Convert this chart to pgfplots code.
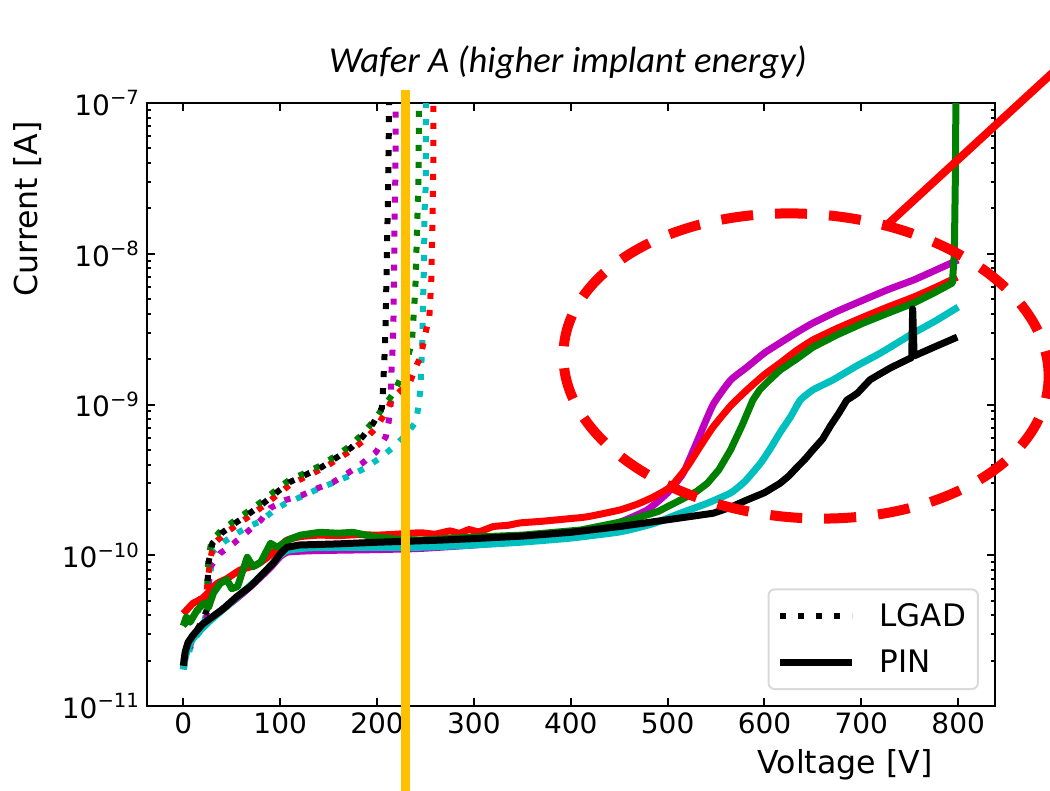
\documentclass[border=0pt]{standalone}
\usepackage{fontspec}
\setmainfont{DejaVu Sans}
\newfontfamily\titlefont{Carlito}
\usepackage{pgfplots}
\pgfplotsset{compat=1.18}
\definecolor{mplm}{rgb}{0.75,0,0.75}
\definecolor{mplc}{rgb}{0,0.75,0.75}
\definecolor{mplg}{rgb}{0,0.5,0}
\definecolor{gold}{HTML}{FFC000}
\begin{document}
\begin{tikzpicture}
\useasboundingbox (0,0) rectangle (525pt,395.5pt);
\begin{axis}[
  at={(73.5pt,42.5pt)}, anchor=south west, scale only axis,
  width=424pt, height=301.5pt,
  xmin=-37.5, xmax=838, ymode=log, ymin=1e-11, ymax=1e-7,
  xtick={0,100,...,800},
  ytick={1e-11,1e-10,1e-9,1e-8,1e-7},
  yticklabels={10\textsuperscript{−11},10\textsuperscript{−10},10\textsuperscript{−9},10\textsuperscript{−8},10\textsuperscript{−7}},
  minor ytick={2e-11,3e-11,4e-11,5e-11,6e-11,7e-11,8e-11,9e-11,2e-10,3e-10,4e-10,5e-10,6e-10,7e-10,8e-10,9e-10,2e-9,3e-9,4e-9,5e-9,6e-9,7e-9,8e-9,9e-9,2e-8,3e-8,4e-8,5e-8,6e-8,7e-8,8e-8,9e-8},
  tick align=inside, major tick length=4pt, minor tick length=2.2pt,
  every tick/.style={black, line width=1pt},
  axis line style={line width=1.3pt},
  tick label style={font=\fontsize{14pt}{16pt}\selectfont},
  /pgf/number format/assume math mode=true,
  legend style={at={(0.981,0.0265)}, anchor=south east, draw=black!15, line width=1pt,
    rounded corners=3pt, font=\fontsize{15.5pt}{18pt}\selectfont,
    inner xsep=4pt, inner ysep=5pt, row sep=6pt,
    /tikz/every odd column/.append style={column sep=10pt}},
  legend cell align=left,
  legend image code/.code={\draw[#1] (0pt,0pt) -- (36pt,0pt);},
  pin/.style={line width=3.5pt, line join=round, forget plot},
  lgad/.style={line width=3pt, dash pattern=on 3pt off 5.5pt, forget plot},
]
% LGAD (dotted)
\addplot[lgad, mplc] coordinates {(0,1.8e-11)(10,2.7e-11)(20,3.3e-11)(25,4.5e-11)(28,7.5e-11)(30,1.05e-10)(43,1.24e-10)(57,1.42e-10)(70,1.58e-10)(80,1.68e-10)(92,1.95e-10)(105,2.2e-10)(122,2.45e-10)(139,2.75e-10)(156,3.05e-10)(173,3.4e-10)(188,3.79e-10)(203,4.42e-10)(217,5.22e-10)(230,6.3e-10)(240,7.65e-10)(243,9.9e-10)(245,1.31e-9)(245.5,1.69e-9)(247,2.89e-9)(247.5,4.93e-9)(248.5,8.4e-9)(249,1.86e-8)(250.5,3.09e-8)(250.5,6.8e-8)(251,2e-7)};
\addplot[lgad, mplm] coordinates {(0,1.9e-11)(10,2.8e-11)(20,3.4e-11)(24,3.9e-11)(25,5.0e-11)(28,8.4e-11)(38,1.03e-10)(52,1.2e-10)(66,1.43e-10)(80,1.71e-10)(90,2.06e-10)(105,2.32e-10)(123,2.51e-10)(139,2.79e-10)(155,3.06e-10)(170,3.51e-10)(185,4.09e-10)(199,4.84e-10)(209,6.1e-10)(212,7.65e-10)(214,9.9e-10)(214.5,1.31e-9)(215,1.74e-9)(216,2.3e-9)(217,3.8e-9)(217.5,6.7e-9)(218,1.44e-8)(219,3.6e-8)(219.5,2e-7)};
\addplot[lgad, red] coordinates {(0,4.1e-11)(10,4.7e-11)(20,5.3e-11)(24,5.8e-11)(26,7.5e-11)(28,9.5e-11)(31,1.18e-10)(42,1.38e-10)(56,1.6e-10)(71,1.87e-10)(85,2.18e-10)(99,2.58e-10)(112,3.0e-10)(128,3.35e-10)(145,3.8e-10)(161,4.4e-10)(175,5.05e-10)(188,5.9e-10)(199,7.0e-10)(209,8.9e-10)(217,1.12e-9)(234,1.41e-9)(241,1.83e-9)(245,2.07e-9)(250,2.98e-9)(254,3.8e-9)(256,6.7e-9)(257,1.44e-8)(258,3.6e-8)(258.5,2e-7)};
\addplot[lgad, mplg] coordinates {(0,3.4e-11)(10,4.0e-11)(20,4.6e-11)(24,5.0e-11)(25,7.0e-11)(26,9.5e-11)(29,1.25e-10)(39,1.46e-10)(53,1.7e-10)(68,1.98e-10)(82,2.3e-10)(96,2.72e-10)(109,3.15e-10)(125,3.5e-10)(142,3.95e-10)(158,4.6e-10)(172,5.3e-10)(184,6.3e-10)(196,7.7e-10)(206,9.5e-10)(217,1.19e-9)(227,1.62e-9)(236,2.56e-9)(237,3.27e-9)(239.5,5.75e-9)(240.5,9.5e-9)(241.5,1.6e-8)(242.6,2.73e-8)(243,4.67e-8)(243.5,2e-7)};
\addplot[lgad, black] coordinates {(0,2.0e-11)(10,2.9e-11)(20,3.7e-11)(24,4.3e-11)(25,6.5e-11)(26,8.9e-11)(30,1.2e-10)(40,1.41e-10)(54,1.64e-10)(69,1.91e-10)(83,2.22e-10)(97,2.63e-10)(110,3.06e-10)(126,3.41e-10)(143,3.85e-10)(159,4.48e-10)(173,5.15e-10)(185,6.1e-10)(196,7.5e-10)(205,9.5e-10)(206,1.21e-9)(208,2.3e-9)(209,3.8e-9)(210,8.7e-9)(211,1.9e-8)(212,5.4e-8)(213,2e-7)};
% PIN (solid)
\addplot[pin, mplm, smooth, tension=0.3] coordinates {(0,1.75e-11)(2,2.2e-11)(5,2.6e-11)(10,2.9e-11)(20,3.4e-11)(30,3.9e-11)(45,4.6e-11)(60,5.5e-11)(75,6.7e-11)(90,8.3e-11)(100,9.8e-11)(108,1.05e-10)(130,1.07e-10)(160,1.08e-10)(200,1.09e-10)(245,1.11e-10)(300,1.17e-10)(350,1.25e-10)(410,1.40e-10)(450,1.65e-10)(479,2.0e-10)(500,2.6e-10)(516,3.5e-10)(530,5.6e-10)(547,1.0e-9)(565,1.45e-9)(582,1.77e-9)(600,2.2e-9)(616,2.56e-9)(633,3.0e-9)(650,3.47e-9)(675,4.15e-9)(702,4.93e-9)(728,5.8e-9)(754,6.7e-9)(777,7.8e-9)(800,9.1e-9)};
\addplot[pin, red, smooth, tension=0.3] coordinates {(0,4.1e-11)(3,4.3e-11)(10,4.8e-11)(20,5.2e-11)(35,6.5e-11)(45,7.0e-11)(59,8.0e-11)(75,8.6e-11)(87,9.7e-11)(100,1.15e-10)(107,1.26e-10)(121,1.33e-10)(140,1.36e-10)(160,1.35e-10)(180,1.37e-10)(200,1.36e-10)(220,1.38e-10)(245,1.41e-10)(260,1.38e-10)(275,1.45e-10)(285,1.40e-10)(295,1.48e-10)(305,1.43e-10)(320,1.55e-10)(335,1.58e-10)(348,1.64e-10)(370,1.68e-10)(395,1.74e-10)(417,1.80e-10)(451,2.0e-10)(470,2.2e-10)(485,2.43e-10)(503,2.84e-10)(520,3.85e-10)(533,5.2e-10)(547,7.1e-10)(565,9.8e-10)(582,1.25e-9)(600,1.58e-9)(616,1.88e-9)(633,2.28e-9)(650,2.68e-9)(675,3.2e-9)(702,3.8e-9)(728,4.45e-9)(754,5.16e-9)(777,6.0e-9)(799,7.0e-9)};
\addplot[pin, mplg] coordinates {(0,3.4e-11)(3,3.9e-11)(7,3.6e-11)(14,4.3e-11)(21,4.8e-11)(26,4.5e-11)(31,5.6e-11)(38,6.5e-11)(45,6.9e-11)(50,6.0e-11)(56,6.2e-11)(66,9.7e-11)(72,8.4e-11)(80,9.0e-11)(90,1.2e-10)(97,1.13e-10)(110,1.28e-10)(121,1.36e-10)(141,1.42e-10)(160,1.40e-10)(175,1.42e-10)(196,1.33e-10)(220,1.28e-10)(245,1.26e-10)(299,1.32e-10)(350,1.36e-10)(410,1.47e-10)(461,1.71e-10)(490,1.95e-10)(513,2.32e-10)(530,2.65e-10)(541,3.0e-10)(553,3.7e-10)(565,5.0e-10)(577,7.3e-10)(588,1.07e-9)(595,1.25e-9)(605,1.45e-9)(616,1.69e-9)(633,2.0e-9)(650,2.4e-9)(675,2.9e-9)(702,3.47e-9)(728,4.05e-9)(754,4.71e-9)(775,5.5e-9)(794,6.4e-9)(796,1e-8)(797,3e-8)(798,2e-7)};
\addplot[pin, mplc, smooth, tension=0.3] coordinates {(0,1.75e-11)(2,2.1e-11)(5,2.45e-11)(10,2.8e-11)(20,3.3e-11)(30,3.8e-11)(45,4.6e-11)(60,5.6e-11)(75,6.8e-11)(90,8.5e-11)(100,1.0e-10)(108,1.08e-10)(130,1.12e-10)(180,1.13e-10)(245,1.13e-10)(300,1.17e-10)(348,1.22e-10)(400,1.3e-10)(451,1.43e-10)(485,1.62e-10)(513,1.9e-10)(540,2.2e-10)(565,2.59e-10)(580,3.1e-10)(596,4.09e-10)(606,5.1e-10)(616,6.5e-10)(627,8.3e-10)(637,1.07e-9)(650,1.25e-9)(671,1.46e-9)(695,1.8e-9)(720,2.2e-9)(754,2.98e-9)(777,3.6e-9)(800,4.43e-9)};
\addplot[pin, black] coordinates {(0,1.85e-11)(2,2.3e-11)(5,2.65e-11)(10,2.95e-11)(20,3.5e-11)(30,3.9e-11)(41,4.4e-11)(55,5.3e-11)(69,6.2e-11)(80,7.3e-11)(93,8.9e-11)(100,1.02e-10)(107,1.13e-10)(120,1.17e-10)(160,1.19e-10)(200,1.22e-10)(265,1.26e-10)(300,1.29e-10)(350,1.34e-10)(400,1.42e-10)(450,1.55e-10)(500,1.72e-10)(547,1.9e-10)(565,2.08e-10)(580,2.3e-10)(600,2.6e-10)(616,3.0e-10)(625,3.35e-10)(633,3.8e-10)(642,4.35e-10)(650,5.0e-10)(660,5.9e-10)(668,7.2e-10)(677,8.8e-10)(685,1.07e-9)(690,1.12e-9)(696,1.19e-9)(709,1.46e-9)(730,1.75e-9)(752,2.05e-9)(753,4.3e-9)(754.5,2.1e-9)(775,2.4e-9)(799,2.8e-9)};
\addlegendimage{black, line width=3pt, dash pattern=on 3pt off 6pt}
\addlegendentry{LGAD}
\addlegendimage{black, line width=3.5pt}
\addlegendentry{PIN}
\end{axis}
\node[font=\titlefont\itshape\fontsize{18.3pt}{20pt}\selectfont] at (284pt,364.5pt) {Wafer A (higher implant energy)};
\node[rotate=90, font=\fontsize{15.8pt}{18pt}\selectfont] at (14pt,291pt) {Current [A]};
\node[font=\fontsize{15.8pt}{18pt}\selectfont] at (422.5pt,13pt) {Voltage [V]};
\draw[gold, line width=4.5pt] (202.5pt,-2pt) -- (202.5pt,350.5pt);
\draw[red, line width=4pt] (444pt,283.5pt) -- (528pt,360.7pt);
\draw[red, line width=5pt, dash pattern=on 16pt off 11pt, rotate around={-4:(403pt,212.5pt)}] (403pt,212.5pt) ellipse (121.5pt and 76pt);
\end{tikzpicture}
\end{document}
